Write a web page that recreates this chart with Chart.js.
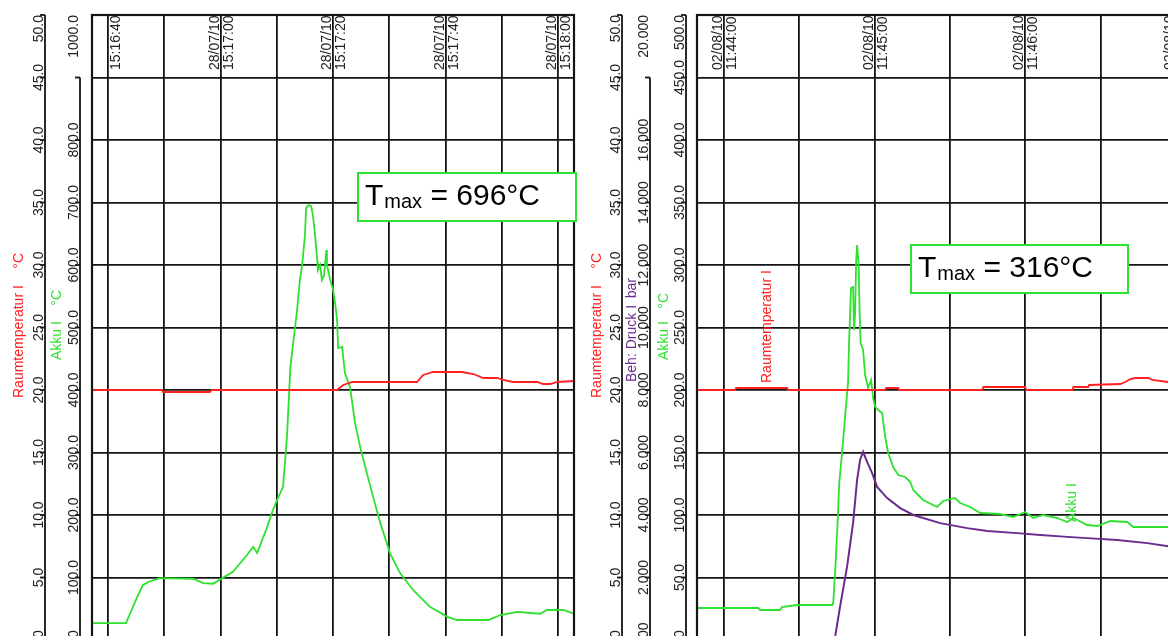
<!DOCTYPE html>
<html>
<head>
<meta charset="utf-8">
<script src="https://cdn.jsdelivr.net/npm/chart.js@4.4.0/dist/chart.umd.min.js"></script>
<style>
html,body{margin:0;padding:0;background:#fff;overflow:hidden;width:1168px;height:636px;}
#left{position:absolute;left:0;top:0;}
#right{position:absolute;left:580px;top:0;}
</style>
</head>
<body>
<canvas id="left" width="580" height="660"></canvas>
<canvas id="right" width="700" height="660"></canvas>
<script>
// ---------- Versuch 28/07/10 (Zeit in s ab 15:16:40) ----------
const leftAkkuTime = [-2.8, 3.2, 5.2, 6.2, 7.5, 9.2, 15.1, 16.9, 18.7, 20.3, 22.2, 24.7, 25.8, 26.5, 28.3, 29.3, 30.2, 31.1, 31.8, 32.4, 32.9, 33.6, 34.1, 34.5, 35.0, 35.2, 35.6, 36.1, 36.4, 36.8, 37.2, 37.3, 37.7, 38.0, 38.4, 38.8, 38.9, 39.5, 40.0, 40.4, 40.7, 40.9, 41.6, 42.1, 43.0, 43.9, 44.8, 46.0, 47.1, 48.4, 50.1, 51.9, 54.2, 57.2, 60.3, 62.0, 67.6, 69.7, 72.7, 76.8, 78.0, 80.9, 82.8];
const leftAkku = [27, 27, 69, 88, 94, 99, 98, 91, 90, 99, 109, 136, 149, 139, 181, 208, 227, 245, 325, 435, 475, 528, 576, 600, 648, 691, 696, 694, 680, 648, 605, 592, 600, 576, 584, 624, 600, 576, 560, 536, 512, 467, 469, 427, 405, 347, 309, 267, 229, 187, 139, 107, 80, 53, 37, 32, 32, 40, 45, 42, 48, 48, 42];
const leftRaumTime = [-2.8, 9.6, 9.8, 18.1, 18.4, 40.7, 41.8, 43.4, 54.9, 56.0, 57.8, 62.9, 64.9, 66.7, 69.2, 70.2, 72.0, 76.3, 77.3, 78.6, 79.8, 82.8];
const leftRaum = [20.0, 20.0, 19.84, 19.84, 20.0, 20.0, 20.4, 20.64, 20.64, 21.2, 21.44, 21.44, 21.28, 20.96, 20.96, 20.8, 20.64, 20.64, 20.48, 20.48, 20.64, 20.72];

const leftGrid = [0, 10, 20, 30, 40, 50, 60, 70, 80];
const leftLabelSec = [0, 20, 40, 60, 80];
const leftDates = ['', '28/07/10', '28/07/10', '28/07/10', '28/07/10'];
const leftTimes = ['15:16:40', '15:17:00', '15:17:20', '15:17:40', '15:18:00'];

// ---------- Versuch 02/08/10 (Zeit in s ab 11:44:00) ----------
const rightAkkuTime = [-10.8, 13.6, 14.4, 22.3, 23.1, 29.1, 43.1, 43.5, 44.3, 45.1, 45.9, 47.4, 48.2, 49.4, 49.8, 50.4, 50.6, 51.4, 51.8, 52.2, 52.6, 53.0, 53.6, 54.0, 54.4, 55.4, 56.2, 57.4, 58.6, 59.4, 60.2, 61.4, 63.0, 64.2, 65.4, 67.4, 69.4, 72.2, 74.2, 75.4, 79.3, 84.9, 87.3, 92.1, 94.1, 98.1, 102.1, 110.0, 115.2, 120.0, 123.2, 127.2, 132.8, 136.8, 139.2, 144.7, 148.7, 153.9, 160.7, 163.1, 177.0];
const rightAkku = [25.6, 25.6, 24.0, 24.0, 26.4, 28.0, 28.0, 29.6, 56, 88, 125.6, 158.4, 178.4, 205.6, 237.6, 272, 281.6, 282.4, 248, 260, 301.6, 316, 301.6, 264, 237.6, 232, 212, 201.6, 208, 193.6, 186.4, 184, 181.6, 162.4, 149.6, 138.4, 132, 130.4, 126.4, 120, 112, 106.4, 111.2, 113.6, 109.6, 106.4, 101.6, 100.8, 98.4, 102.4, 97.6, 100, 97.6, 94.4, 97.6, 92, 91.2, 95.2, 94.4, 90.4, 90.4];
const rightDruckTime = [44.3, 46.2, 49.0, 51.4, 53.0, 54.2, 55.4, 57.0, 59.0, 61.0, 65.0, 70.2, 75.4, 86.1, 96.9, 104.9, 116.8, 126.0, 136.8, 144.7, 156.7, 168.7, 177.0];
const rightDruck = [0.13, 1.06, 2.34, 3.74, 5.12, 5.76, 6.02, 5.70, 5.34, 4.90, 4.54, 4.22, 4.00, 3.74, 3.58, 3.49, 3.42, 3.36, 3.30, 3.26, 3.20, 3.10, 3.00];
const rightRaumTime = [-10.8, 4.4, 4.8, 25.1, 25.5, 64.2, 64.6, 69.4, 69.8, 102.9, 103.3, 120.0, 120.4, 138.8, 139.2, 145.1, 145.5, 157.9, 159.9, 161.9, 163.9, 169.1, 170.7, 177.0];
const rightRaum = [20, 20, 20.16, 20.16, 20, 20, 20.16, 20.16, 20, 20, 20.24, 20.24, 20, 20, 20.24, 20.24, 20.4, 20.48, 20.64, 20.88, 20.96, 20.96, 20.8, 20.64];

const rightGrid = [0, 30, 60, 90, 120, 150, 180, 210];
const rightLabelSec = [0, 60, 120, 180];
const rightDates = ['02/08/10', '02/08/10', '02/08/10', '02/08/10'];
const rightTimes = ['11:44:00', '11:45:00', '11:46:00', '11:47:00'];

// Achsbeschriftungen (von unten nach oben, '' = ohne Text)
const raumTicks = ['0.0', '5.0', '10.0', '15.0', '20.0', '25.0', '30.0', '35.0', '40.0', '45.0', '50.0'];
const akkuTicks1000 = ['0.0', '100.0', '200.0', '300.0', '400.0', '500.0', '600.0', '700.0', '800.0', '', '1000.0'];
const druckTicks = ['0.000', '2.000', '4.000', '6.000', '8.000', '10.000', '12.000', '14.000', '16.000', '', '20.000'];
const akkuTicks500 = ['0.0', '50.0', '100.0', '150.0', '200.0', '250.0', '300.0', '350.0', '400.0', '450.0', '500.0'];

const RED = '#ff2020', GREEN = '#2fe02f', PURPLE = '#6c2a8e', INK = '#141414';
const FAM = '"Liberation Sans", Arial, sans-serif';

const pts = (xs, ys) => xs.map((x, i) => ({x, y: ys[i]}));

function vText(ctx, text, x, y, align){
    ctx.save();
    ctx.translate(x, y);
    ctx.rotate(-Math.PI/2);
    ctx.textAlign = align;
    ctx.fillText(text, 0, 0);
    ctx.restore();
}

// Achsen, Zeitstempel, Rahmen und Tmax-Kasten
const decor = {
    id: 'decor',
    afterDraw(chart, args, o){
        const ctx = chart.ctx, a = chart.chartArea;
        ctx.save();
        ctx.font = '14px ' + FAM;
        ctx.textBaseline = 'alphabetic';
        ctx.lineWidth = 1.8;
        ctx.strokeStyle = INK;

        o.axes.forEach(ax=>{
            const sc = chart.scales[ax.id];
            const n = ax.labels.length - 1;
            const step = (sc.max - sc.min) / n;
            ctx.beginPath();
            ctx.moveTo(ax.x, sc.getPixelForValue(sc.min + step*ax.lineFrom));
            ctx.lineTo(ax.x, a.bottom);
            ctx.stroke();
            ctx.fillStyle = '#222';
            ax.labels.forEach((lab, i)=>{
                const y = sc.getPixelForValue(sc.min + step*i);
                if(i <= ax.lineFrom){
                    ctx.beginPath(); ctx.moveTo(ax.x-5, y); ctx.lineTo(ax.x, y); ctx.stroke();
                }
                if(lab) vText(ctx, lab, ax.x-2, y, i === n ? 'right' : 'center');
            });
        });

        o.titles.forEach(t=>{
            ctx.fillStyle = t.color;
            vText(ctx, t.text, t.x, t.y, t.align);
        });

        // Zeitstempel oben im Diagramm
        ctx.save();
        ctx.beginPath(); ctx.rect(a.left, a.top, a.width, a.height); ctx.clip();
        ctx.fillStyle = '#222';
        o.stamps.sec.forEach((s, i)=>{
            const gx = chart.scales.x.getPixelForValue(s);
            if(o.stamps.dates[i]) vText(ctx, o.stamps.dates[i], gx-2, 70, 'left');
            vText(ctx, o.stamps.times[i], gx+12, 70, 'left');
        });
        ctx.restore();

        ctx.lineWidth = 2.2;
        ctx.strokeStyle = INK;
        ctx.strokeRect(a.left, a.top, a.width, a.height);

        // Kasten mit Tmax
        const b = o.box;
        ctx.fillStyle = '#fff';
        ctx.fillRect(b.x, b.y, b.w, b.h);
        ctx.strokeStyle = GREEN;
        ctx.lineWidth = 2;
        ctx.strokeRect(b.x, b.y, b.w, b.h);
        ctx.fillStyle = '#000';
        ctx.textAlign = 'left';
        let tx = b.x + 7;
        const by = b.y + 32;
        ctx.font = '30px ' + FAM;
        ctx.fillText('T', tx, by);
        tx += ctx.measureText('T').width + 1;
        ctx.font = '20px ' + FAM;
        ctx.fillText('max', tx, by + 3);
        tx += ctx.measureText('max').width;
        ctx.font = '30px ' + FAM;
        ctx.fillText(' = ' + Math.round(b.value) + '°C', tx, by);
        ctx.restore();
    }
};

function gridScale(min, max, grid){
    return {
        type: 'linear', min, max,
        afterBuildTicks: s=>{ s.ticks = grid.map(v=>({value: v})); },
        ticks: {display: false},
        grid: {color: INK, lineWidth: 1.8, drawTicks: false},
        border: {display: false}
    };
}

function baseOptions(padding, xs, decorOpts, extraScales){
    return {
        responsive: false,
        animation: false,
        layout: {padding, autoPadding: false},
        elements: {point: {radius: 0}, line: {borderWidth: 1.8, tension: 0}},
        plugins: {legend: {display: false}, tooltip: {enabled: false}, decor: decorOpts},
        scales: Object.assign({
            x: xs,
            yRaum: {
                type: 'linear', min: 0, max: 50, position: 'left',
                ticks: {display: false, stepSize: 5},
                grid: {color: INK, lineWidth: 1.8, drawTicks: false},
                border: {display: false}
            }
        }, extraScales)
    };
}

// -------------------- Linkes Diagramm --------------------
new Chart(document.getElementById('left'), {
    type: 'line',
    data: {datasets: [
        {label: 'Raumtemperatur I', data: pts(leftRaumTime, leftRaum), borderColor: RED, yAxisID: 'yRaum'},
        {label: 'Akku I', data: pts(leftAkkuTime, leftAkku), borderColor: GREEN, yAxisID: 'yAkku'}
    ]},
    options: baseOptions(
        {left: 92, top: 15, right: 6, bottom: 20},
        gridScale(-2.84, 82.8, leftGrid),
        {
            axes: [
                {id: 'yRaum', x: 45, lineFrom: 10, labels: raumTicks},
                {id: 'yAkku', x: 80, lineFrom: 9, labels: akkuTicks1000}
            ],
            titles: [
                {text: 'Raumtemperatur I', x: 23, y: 398, align: 'left', color: RED},
                {text: '°C', x: 23, y: 253, align: 'right', color: RED},
                {text: 'Akku I', x: 61, y: 360, align: 'left', color: GREEN},
                {text: '°C', x: 61, y: 290, align: 'right', color: GREEN}
            ],
            stamps: {sec: leftLabelSec, dates: leftDates, times: leftTimes},
            box: {x: 358, y: 173, w: 218, h: 48, value: Math.max(...leftAkku)}
        },
        {yAkku: {type: 'linear', min: 0, max: 1000, display: false}}
    ),
    plugins: [decor]
});

// -------------------- Rechtes Diagramm --------------------
new Chart(document.getElementById('right'), {
    type: 'line',
    data: {datasets: [
        {label: 'Raumtemperatur I', data: pts(rightRaumTime, rightRaum), borderColor: RED, yAxisID: 'yRaum'},
        {label: 'Beh: Druck I', data: pts(rightDruckTime, rightDruck), borderColor: PURPLE, borderWidth: 2, yAxisID: 'yDruck'},
        {label: 'Akku I', data: pts(rightAkkuTime, rightAkku), borderColor: GREEN, yAxisID: 'yAkku'}
    ]},
    options: baseOptions(
        {left: 117, top: 15, right: 29, bottom: 20},
        gridScale(-10.8, 210, rightGrid),
        {
            axes: [
                {id: 'yRaum', x: 42, lineFrom: 10, labels: raumTicks},
                {id: 'yDruck', x: 70, lineFrom: 9, labels: druckTicks},
                {id: 'yAkku', x: 106, lineFrom: 10, labels: akkuTicks500}
            ],
            titles: [
                {text: 'Raumtemperatur I', x: 21, y: 398, align: 'left', color: RED},
                {text: '°C', x: 21, y: 253, align: 'right', color: RED},
                {text: 'Beh: Druck I', x: 56, y: 382, align: 'left', color: PURPLE},
                {text: 'bar', x: 56, y: 278, align: 'right', color: PURPLE},
                {text: 'Akku I', x: 88, y: 360, align: 'left', color: GREEN},
                {text: '°C', x: 88, y: 293, align: 'right', color: GREEN},
                {text: 'Raumtemperatur I', x: 191, y: 383, align: 'left', color: RED},
                {text: 'Akku I', x: 496, y: 522, align: 'left', color: GREEN}
            ],
            stamps: {sec: rightLabelSec, dates: rightDates, times: rightTimes},
            box: {x: 331, y: 245, w: 217, h: 48, value: Math.max(...rightAkku)}
        },
        {
            yDruck: {type: 'linear', min: 0, max: 20, display: false},
            yAkku: {type: 'linear', min: 0, max: 500, display: false}
        }
    ),
    plugins: [decor]
});
</script>
</body>
</html>
